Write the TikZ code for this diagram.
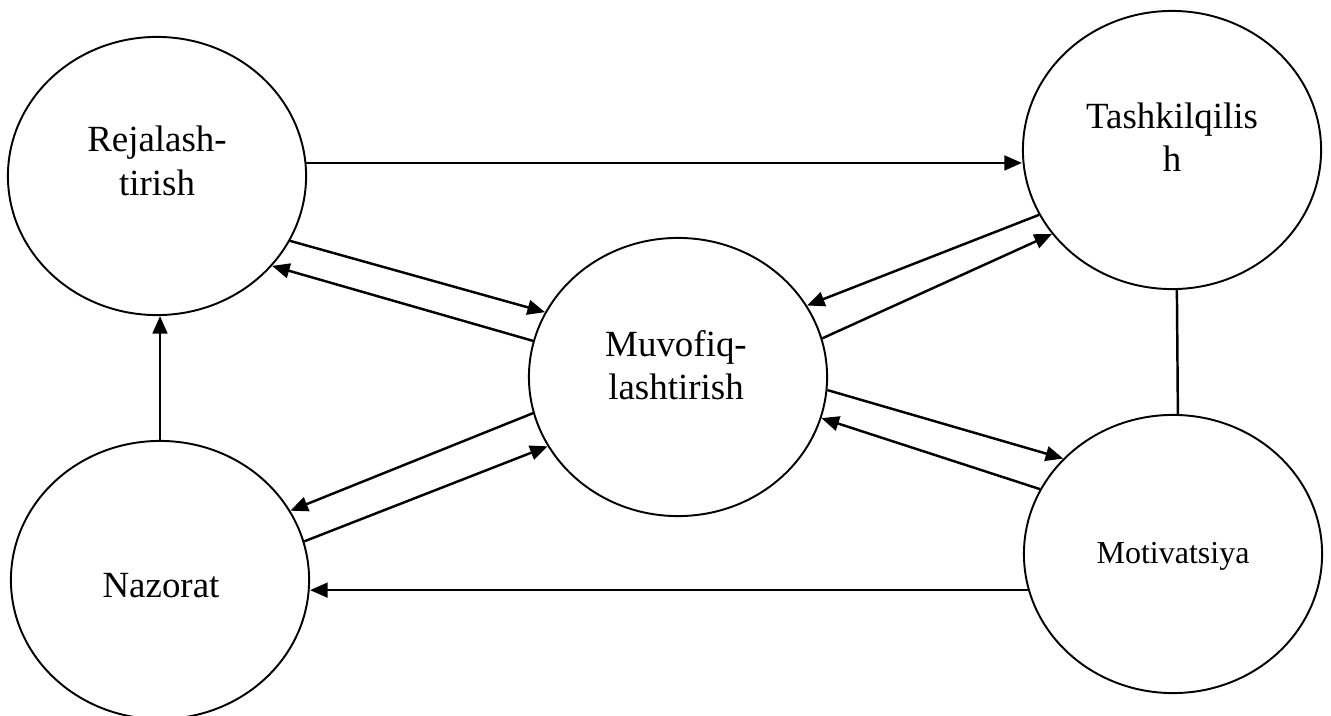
\documentclass[tikz,border=0pt]{standalone}
\usepackage{fontspec}
\setmainfont{Liberation Serif}
\usetikzlibrary{shapes.geometric,arrows.meta}
\begin{document}
\begin{tikzpicture}[x=0.01cm,y=-0.01cm,
  stage/.style={draw,ellipse,line width=0.55pt,inner sep=0pt,
    minimum width=2.98cm,minimum height=2.78cm},
  caption/.style={font=\fontsize{10.5pt}{12.4pt}\selectfont,align=center,inner sep=0pt},
  smallcaption/.style={font=\fontsize{9.1pt}{11pt}\selectfont,align=center,inner sep=0pt},
  flow/.style={line width=0.7pt,-{Triangle[length=5pt,width=4.2pt]}},
  link/.style={line width=0.7pt}]
\useasboundingbox (0,0) rectangle (1331,715);

% the five functions
\node[stage] (rej) at (157,176) {};
\node[stage] (tash) at (1172,150) {};
\node[stage] (muv) at (678,377) {};
\node[stage] (naz) at (160,580) {};
\node[stage] (mot) at (1173,554) {};

\node[caption] (rejT) at (157,161) {Rejalash-\\tirish};
\node[caption] (tashT) at (1172,137) {Tashkilqilis\\h};
\node[caption] (muvT) at (676,365) {Muvofiq-\\lashtirish};
\node[caption] (nazT) at (161,586) {Nazorat};
\node[smallcaption] (motT) at (1173,556) {Motivatsiya};

% outer links
\draw[flow] (rej.5) -- (rej.5 -| tash.west);
\draw[flow] (mot.194) -- (mot.194 -| naz.east);
\draw[flow] (naz.north) -- (naz.north |- rej.south);
\draw[link] (tash.-88) -- (mot.88);

% links with the coordinating centre
\draw[flow] (rej.-26) -- (muv.154);
\draw[flow] (muv.166) -- (rej.-38);
\draw[flow] (tash.206) -- (muv.29);
\draw[flow] (muv.15) -- (tash.215);
\draw[flow] (muv.-5) -- (mot.139);
\draw[flow] (mot.154) -- (muv.-16);
\draw[flow] (muv.194) -- (naz.28);
\draw[flow] (naz.15) -- (muv.208);
\end{tikzpicture}
\end{document}
